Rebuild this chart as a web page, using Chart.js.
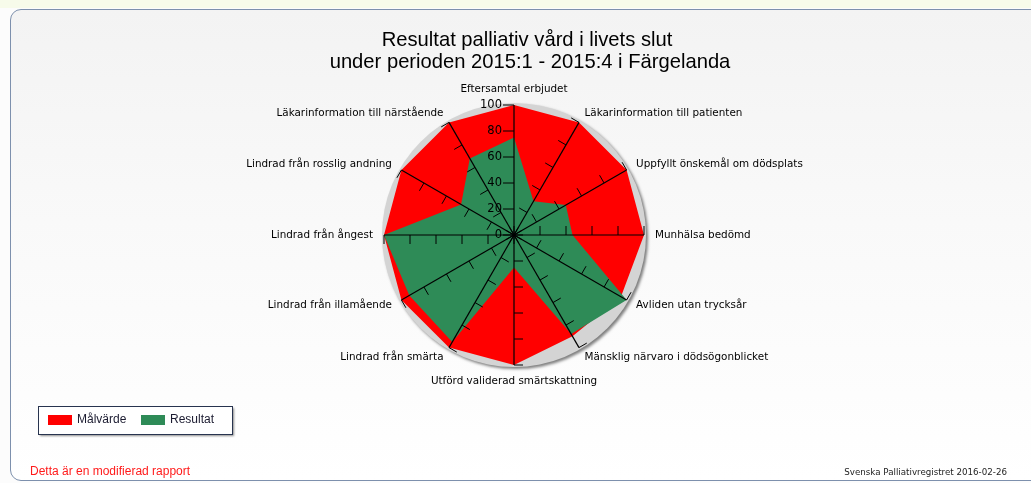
<!DOCTYPE html>
<html>
<head>
<meta charset="utf-8">
<script src="https://cdn.jsdelivr.net/npm/chart.js@4.4.0/dist/chart.umd.min.js"></script>
<style>
  html, body { margin: 0; padding: 0; background: #fcfcfc; }
  #wrap { position: relative; width: 1031px; height: 483px; overflow: hidden; }
  #topband { position: absolute; left: 0; top: 0; width: 1031px; height: 8px; background: #f7fbea; }
  #panel {
    position: absolute; left: 10px; top: 9px; width: 1040px; height: 470px;
    border: 1.5px solid #7d90ad; border-radius: 11px;
    background: linear-gradient(to bottom, #f3f3f3, #f9f9f9 45%, #ffffff);
  }
  canvas { position: absolute; left: 0; top: 0; }
</style>
</head>
<body>
<div id="wrap">
  <div id="topband"></div>
  <div id="panel"></div>
  <canvas id="radar" width="1031" height="483"></canvas>
</div>
<script>
var categories = [
  'Eftersamtal erbjudet',
  'Läkarinformation till patienten',
  'Uppfyllt önskemål om dödsplats',
  'Munhälsa bedömd',
  'Avliden utan trycksår',
  'Mänsklig närvaro i dödsögonblicket',
  'Utförd validerad smärtskattning',
  'Lindrad från smärta',
  'Lindrad från illamående',
  'Lindrad från ångest',
  'Lindrad från rosslig andning',
  'Läkarinformation till närstående'
];
var malvarde = [100, 100, 100, 100, 95, 90, 100, 100, 100, 100, 100, 100];
var resultat = [75, 30, 46, 45, 100, 88, 25, 95, 93, 100, 47, 68];
var tickValues = [0, 20, 40, 60, 80, 100];

var titleLines = ['Resultat palliativ vård i livets slut', 'under perioden 2015:1 - 2015:4 i Färgelanda'];
var RED = '#ff0000', GREEN = '#2e8b57';

var decorations = {
  id: 'decorations',
  beforeDatasetsDraw: function (chart) {
    var r = chart.scales.r, ctx = chart.ctx;
    // grey disc with a soft shadow behind the polygons
    ctx.save();
    ctx.shadowColor = 'rgba(0,0,0,0.5)';
    ctx.shadowBlur = 3;
    ctx.shadowOffsetX = 2;
    ctx.shadowOffsetY = 2;
    ctx.beginPath();
    ctx.arc(r.xCenter, r.yCenter, r.drawingArea + 2, 0, Math.PI * 2);
    ctx.fillStyle = '#d4d4d4';
    ctx.fill();
    ctx.restore();
  },
  afterDraw: function (chart) {
    var r = chart.scales.r, ctx = chart.ctx;
    var n = categories.length, i, j;
    ctx.save();

    // small ticks on the counter-clockwise side of every spoke
    ctx.strokeStyle = '#000';
    ctx.lineWidth = 1;
    for (i = 0; i < n; i++) {
      var a = r.getIndexAngle(i);
      var dx = Math.sin(a), dy = -Math.cos(a);
      var px = dy, py = -dx;
      var len = i === 0 ? 11 : 9;
      for (j = 0; j < tickValues.length; j++) {
        var p = r.getPointPositionForValue(i, tickValues[j]);
        ctx.beginPath();
        ctx.moveTo(p.x, p.y);
        ctx.lineTo(p.x + px * len, p.y + py * len);
        ctx.stroke();
      }
    }

    // value labels along the top spoke
    ctx.fillStyle = '#000';
    ctx.font = '11.5px "DejaVu Sans"';
    ctx.textAlign = 'right';
    ctx.textBaseline = 'middle';
    tickValues.forEach(function (v) {
      var p = r.getPointPositionForValue(0, v);
      ctx.fillText(String(v), p.x - 12, p.y);
    });

    // category labels
    ctx.font = '10.4px "DejaVu Sans"';
    for (i = 0; i < n; i++) {
      var deg = Math.round(r.getIndexAngle(i) * 180 / Math.PI) % 360;
      var q = r.getPointPosition(i, r.drawingArea + 11);
      if (deg === 0) { ctx.textAlign = 'center'; ctx.textBaseline = 'bottom'; }
      else if (deg === 180) { ctx.textAlign = 'center'; ctx.textBaseline = 'top'; }
      else { ctx.textAlign = deg < 180 ? 'left' : 'right'; ctx.textBaseline = 'middle'; }
      ctx.fillText(categories[i], q.x, q.y);
    }

    // title
    ctx.font = '20.2px "Liberation Sans"';
    ctx.textAlign = 'center';
    ctx.textBaseline = 'middle';
    ctx.fillStyle = '#000';
    ctx.fillText(titleLines[0], 527, 40);
    ctx.fillText(titleLines[1], 530, 62);

    // legend box
    ctx.save();
    ctx.shadowColor = 'rgba(0,0,0,0.45)';
    ctx.shadowBlur = 2;
    ctx.shadowOffsetX = 2;
    ctx.shadowOffsetY = 2;
    ctx.fillStyle = '#fff';
    ctx.fillRect(38, 406, 194, 28);
    ctx.restore();
    ctx.strokeStyle = '#28344f';
    ctx.lineWidth = 1;
    ctx.strokeRect(38.5, 406.5, 194, 28);
    var items = chart.data.datasets;
    var lx = [48, 141];
    ctx.font = '12px "Liberation Sans"';
    ctx.textAlign = 'left';
    ctx.textBaseline = 'middle';
    for (i = 0; i < items.length; i++) {
      ctx.fillStyle = items[i].backgroundColor;
      ctx.fillRect(lx[i], 415, 24, 10);
      ctx.fillStyle = '#1b1b30';
      ctx.fillText(items[i].label, lx[i] + 29, 420);
    }

    // footer notes
    ctx.font = '12px "Liberation Sans"';
    ctx.fillStyle = '#ff1a1a';
    ctx.fillText('Detta är en modifierad rapport', 30, 472);
    ctx.font = '8.7px "DejaVu Sans"';
    ctx.fillStyle = '#222';
    ctx.textAlign = 'right';
    ctx.fillText('Svenska Palliativregistret 2016-02-26', 1007, 473);
    ctx.restore();
  }
};

new Chart(document.getElementById('radar'), {
  type: 'radar',
  data: {
    labels: categories,
    datasets: [{
      label: 'Målvärde',
      data: malvarde,
      backgroundColor: RED,
      borderWidth: 0,
      pointRadius: 0,
      fill: 'origin',
      order: 2
    },
    {
      label: 'Resultat',
      data: resultat,
      backgroundColor: GREEN,
      borderWidth: 0,
      pointRadius: 0,
      fill: 'origin',
      order: 1
    }]
  },
  options: {
    responsive: false,
    animation: false,
    devicePixelRatio: 1,
    layout: { padding: { left: 384, right: 387, top: 105, bottom: 118 } },
    plugins: {
      legend: { display: false },
      title: { display: false },
      tooltip: { enabled: false }
    },
    elements: { line: { tension: 0 } },
    scales: {
      r: {
        min: 0,
        max: 100,
        ticks: { display: false, stepSize: 20 },
        grid: { display: false, z: 1 },
        angleLines: { display: true, color: '#000', lineWidth: 1.2 },
        pointLabels: { display: false }
      }
    }
  },
  plugins: [decorations]
});
</script>
</body>
</html>
